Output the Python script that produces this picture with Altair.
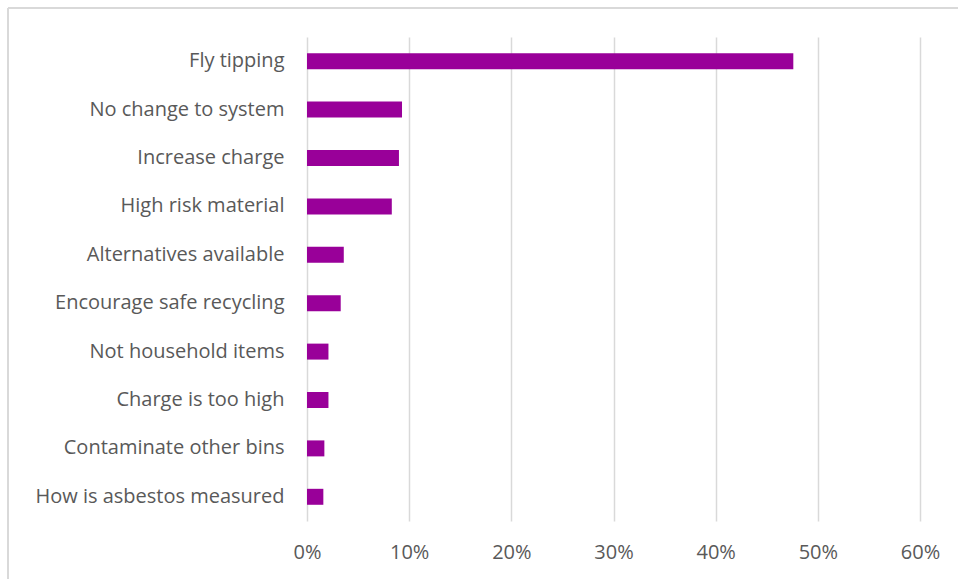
import altair as alt
import pandas as pd

categories = [
    "Fly tipping",
    "No change to system",
    "Increase charge",
    "High risk material",
    "Alternatives available",
    "Encourage safe recycling",
    "Not household items",
    "Charge is too high",
    "Contaminate other bins",
    "How is asbestos measured",
]
shares = [0.476, 0.093, 0.090, 0.083, 0.036, 0.033, 0.021, 0.021, 0.017, 0.016]
x_ticks = [0, 0.1, 0.2, 0.3, 0.4, 0.5, 0.6]

df = pd.DataFrame({"category": categories, "share": shares})

FONT = "Open Sans"
TEXT = "#595959"

bars = alt.Chart(df).mark_bar(color="#990099").encode(
    x=alt.X(
        "share:Q",
        scale=alt.Scale(domain=[0, 0.6], nice=False),
        axis=alt.Axis(
            values=x_ticks,
            format=".0%",
            title=None,
            domain=False,
            ticks=False,
            grid=True,
            gridColor="#d9d9d9",
            gridWidth=1.5,
            labelFont=FONT,
            labelFontSize=20,
            labelColor=TEXT,
            labelPadding=21,
            labelFlush=False,
        ),
    ),
    y=alt.Y(
        "category:N",
        sort=categories,
        scale=alt.Scale(paddingInner=0.67, paddingOuter=0.335),
        axis=alt.Axis(
            title=None,
            domain=False,
            ticks=False,
            grid=False,
            labelFont=FONT,
            labelFontSize=20,
            labelColor=TEXT,
            labelPadding=23,
            labelLimit=400,
        ),
    ),
)

border_top = alt.Chart(df).mark_rule(color="#d9d9d9", strokeWidth=2).encode(
    x=alt.value(-299), x2=alt.value(660), y=alt.value(-29)
)
border_left = alt.Chart(df).mark_rule(color="#d9d9d9", strokeWidth=2).encode(
    x=alt.value(-299), y=alt.value(-29), y2=alt.value(560)
)

chart = (
    alt.layer(bars, border_top, border_left)
    .properties(
        width=613,
        height=484,
        autosize=alt.AutoSizeParams(type="none"),
        padding={"left": 307, "top": 37, "right": 38, "bottom": 58},
        background="white",
    )
    .configure_view(stroke=None)
)

chart.save("out.html", embed_options={"renderer": "svg", "actions": False})
